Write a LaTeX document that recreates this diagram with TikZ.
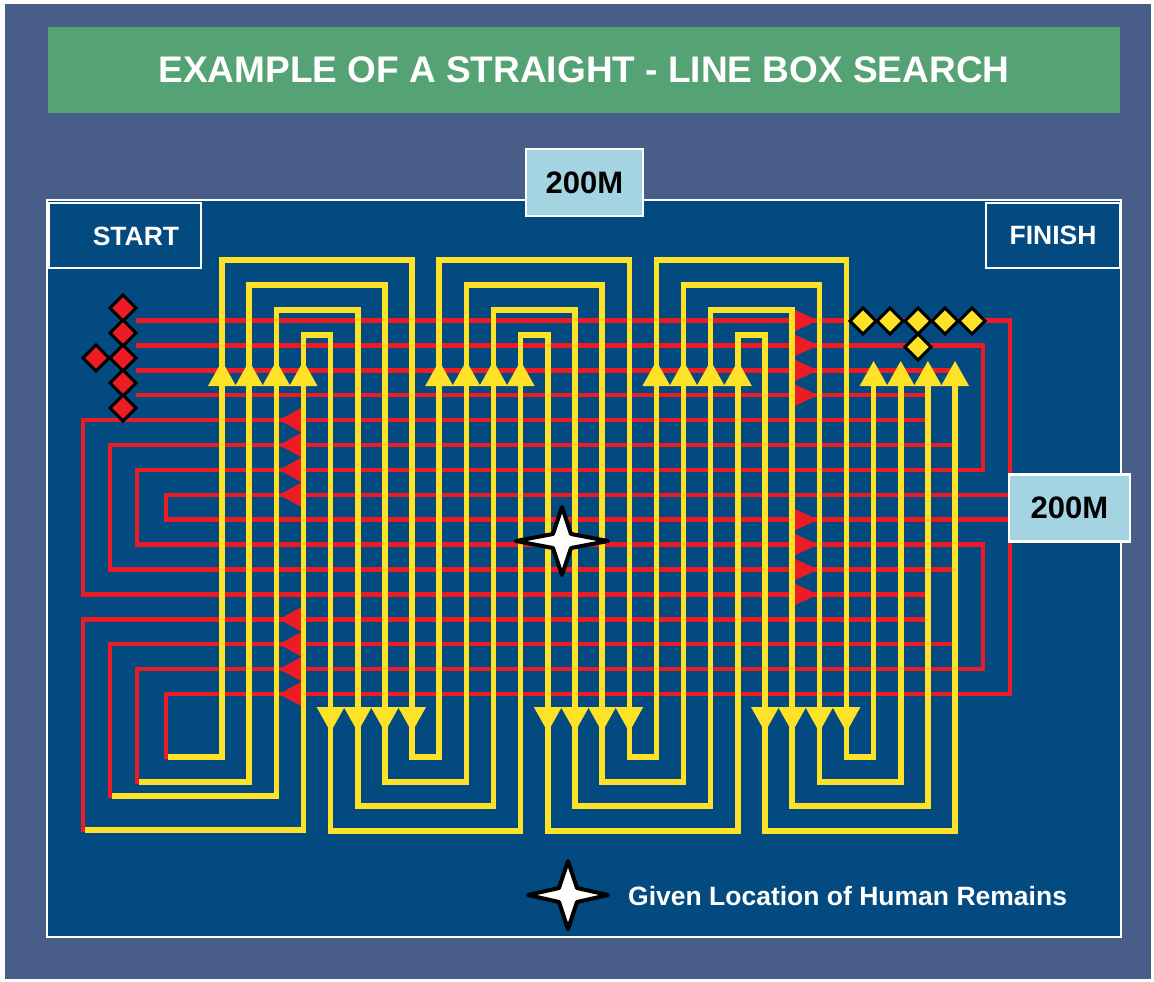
\documentclass[tikz,border=0pt]{standalone}
\usepackage{fontspec}
\setmainfont{Liberation Sans}
\definecolor{slate}{RGB}{72,94,136}
\definecolor{banner}{RGB}{85,162,117}
\definecolor{field}{RGB}{3,74,128}
\definecolor{distbox}{RGB}{164,211,226}
\definecolor{searchred}{RGB}{237,28,36}
\definecolor{searchyellow}{RGB}{253,226,40}
\tikzset{
  redtrack/.style={draw=searchred, line width=4.5pt, line cap=rect, line join=miter},
  yeltrack/.style={draw=searchyellow, line width=5.5pt, line join=miter},
  startmark/.style={fill=searchred, draw=black, line width=3pt},
  finishmark/.style={fill=searchyellow, draw=black, line width=3pt},
  remainsstar/.style={fill=white, draw=black, line width=4pt, line join=round},
  distlabel/.style={fill=distbox, draw=white, line width=2.5pt, inner sep=0pt,
    font=\bfseries\fontsize{31}{34}\selectfont},
  cornerbox/.style={fill=field, draw=white, line width=2pt, text=white, inner sep=0pt,
    font=\bfseries\fontsize{26.5}{28}\selectfont}
}
\begin{document}
\begin{tikzpicture}[x=1pt, y=-1pt]
\useasboundingbox (0,0) rectangle (1154,982);
% draw the background
\fill[white] (0,0) rectangle (1154,982);
\fill[slate] (5,4) rectangle (1151,979);

% draw the title
\node[fill=banner, minimum width=1072pt, minimum height=86pt, inner sep=0pt, text=white,
  font=\bfseries\fontsize{37}{40}\selectfont] (title) at (584,70)
  {EXAMPLE OF A STRAIGHT - LINE BOX SEARCH};

% draw the search area
\draw[white, line width=2pt, fill=field] (47,200) rectangle (1121,937);

% draw red lines
\foreach \s/\xl/\lb/\xr in {0/166/757/1010, 1/137/782/983, 2/110/796/955, 3/83/830/928} {
  \pgfmathsetmacro\ya{320.5+24.9*\s}
  \pgfmathsetmacro\yb{320.5+24.9*(7-\s)}
  \pgfmathsetmacro\yc{320.5+24.9*(8+\s)}
  \pgfmathsetmacro\yd{320.5+24.9*(15-\s)}
  \draw[redtrack] (138,\ya) -- (\xr,\ya) -- (\xr,\yb) -- (\xl,\yb) -- (\xl,\yc)
    -- (\xr,\yc) -- (\xr,\yd) -- (\xl,\yd) -- (\xl,\lb);
}

% draw red arrows
\foreach \k in {0,...,3,8,9,10,11} {
  \pgfmathsetmacro\ry{320.5+24.9*\k}
  \fill[searchred] (818,\ry) -- (792,\ry-12) -- (792,\ry+12) -- cycle;
}
\foreach \k in {4,...,7,12,13,14,15} {
  \pgfmathsetmacro\ry{320.5+24.9*\k}
  \fill[searchred] (279,\ry) -- (301,\ry-12) -- (301,\ry+12) -- cycle;
}

% draw yellow lines
\foreach \s/\xl/\lb/\yt/\bt in {0/166/757/260/757, 1/137/782/285/782, 2/110/796/310/806, 3/83/830/335/831} {
  \pgfmathsetmacro\xa{222+27.15*\s}
  \pgfmathsetmacro\xb{222+27.15*(7-\s)}
  \pgfmathsetmacro\xc{222+27.15*(8+\s)}
  \pgfmathsetmacro\xd{222+27.15*(15-\s)}
  \pgfmathsetmacro\xe{222+27.15*(16+\s)}
  \pgfmathsetmacro\xf{222+27.15*(23-\s)}
  \pgfmathsetmacro\xg{222+27.15*(24+\s)}
  \draw[yeltrack] (\xl+2,\lb) -- (\xa,\lb) -- (\xa,\yt) -- (\xb,\yt) -- (\xb,\bt)
    -- (\xc,\bt) -- (\xc,\yt) -- (\xd,\yt) -- (\xd,\bt) -- (\xe,\bt) -- (\xe,\yt)
    -- (\xf,\yt) -- (\xf,\bt) -- (\xg,\bt) -- (\xg,375);
}

% draw yellow arrows
\foreach \g in {0,2,4,6}
\foreach \i in {0,...,3} {
  \pgfmathsetmacro\ax{222+27.15*(4*\g+\i)}
  \fill[searchyellow] (\ax,361) -- (\ax-14,386) -- (\ax+14,386) -- cycle;
}
\foreach \g in {1,3,5}
\foreach \i in {0,...,3} {
  \pgfmathsetmacro\ax{222+27.15*(4*\g+\i)}
  \fill[searchyellow] (\ax,732) -- (\ax-14,707) -- (\ax+14,707) -- cycle;
}

% draw start and finish marks
\foreach \dx/\dy in {123/308, 123/333, 123/358, 123/383, 123/408, 96/358}
\draw[startmark] (\dx,\dy) +(-13,0) -- +(0,-13) -- +(13,0) -- +(0,13) -- cycle;
\foreach \dx/\dy in {863/321, 890/321, 918/321, 945/321, 972/321, 918/347}
\draw[finishmark] (\dx,\dy) +(-13,0) -- +(0,-13) -- +(13,0) -- +(0,13) -- cycle;

% draw nodes for the corners and distances
\node[cornerbox, minimum width=152pt, minimum height=65pt] (startbox) at (125,235.5) {};
\node[text=white, inner sep=0pt, font=\bfseries\fontsize{26.5}{28}\selectfont] (start) at (136,236) {START};
\node[cornerbox, minimum width=134pt, minimum height=65pt] (finish) at (1053,235.5) {FINISH};
\node[distlabel, minimum width=117pt, minimum height=67pt] (topdist) at (584.5,182.5) {200M};
\node[distlabel, minimum width=121pt, minimum height=67pt] (sidedist) at (1069.5,508) {200M};

% draw the stars
\foreach \sx/\sy/\hx in {562/541/46, 568/895/40}
\draw[remainsstar] (\sx+\hx,\sy) -- (\sx+9,\sy-7) -- (\sx,\sy-34) -- (\sx-9,\sy-7)
  -- (\sx-\hx,\sy) -- (\sx-9,\sy+7) -- (\sx,\sy+34) -- (\sx+9,\sy+7) -- cycle;
\node[anchor=base west, inner sep=0pt, text=white, font=\bfseries\fontsize{26.5}{28}\selectfont]
  (legend) at (628,905) {Given Location of Human Remains};
\end{tikzpicture}
\end{document}
